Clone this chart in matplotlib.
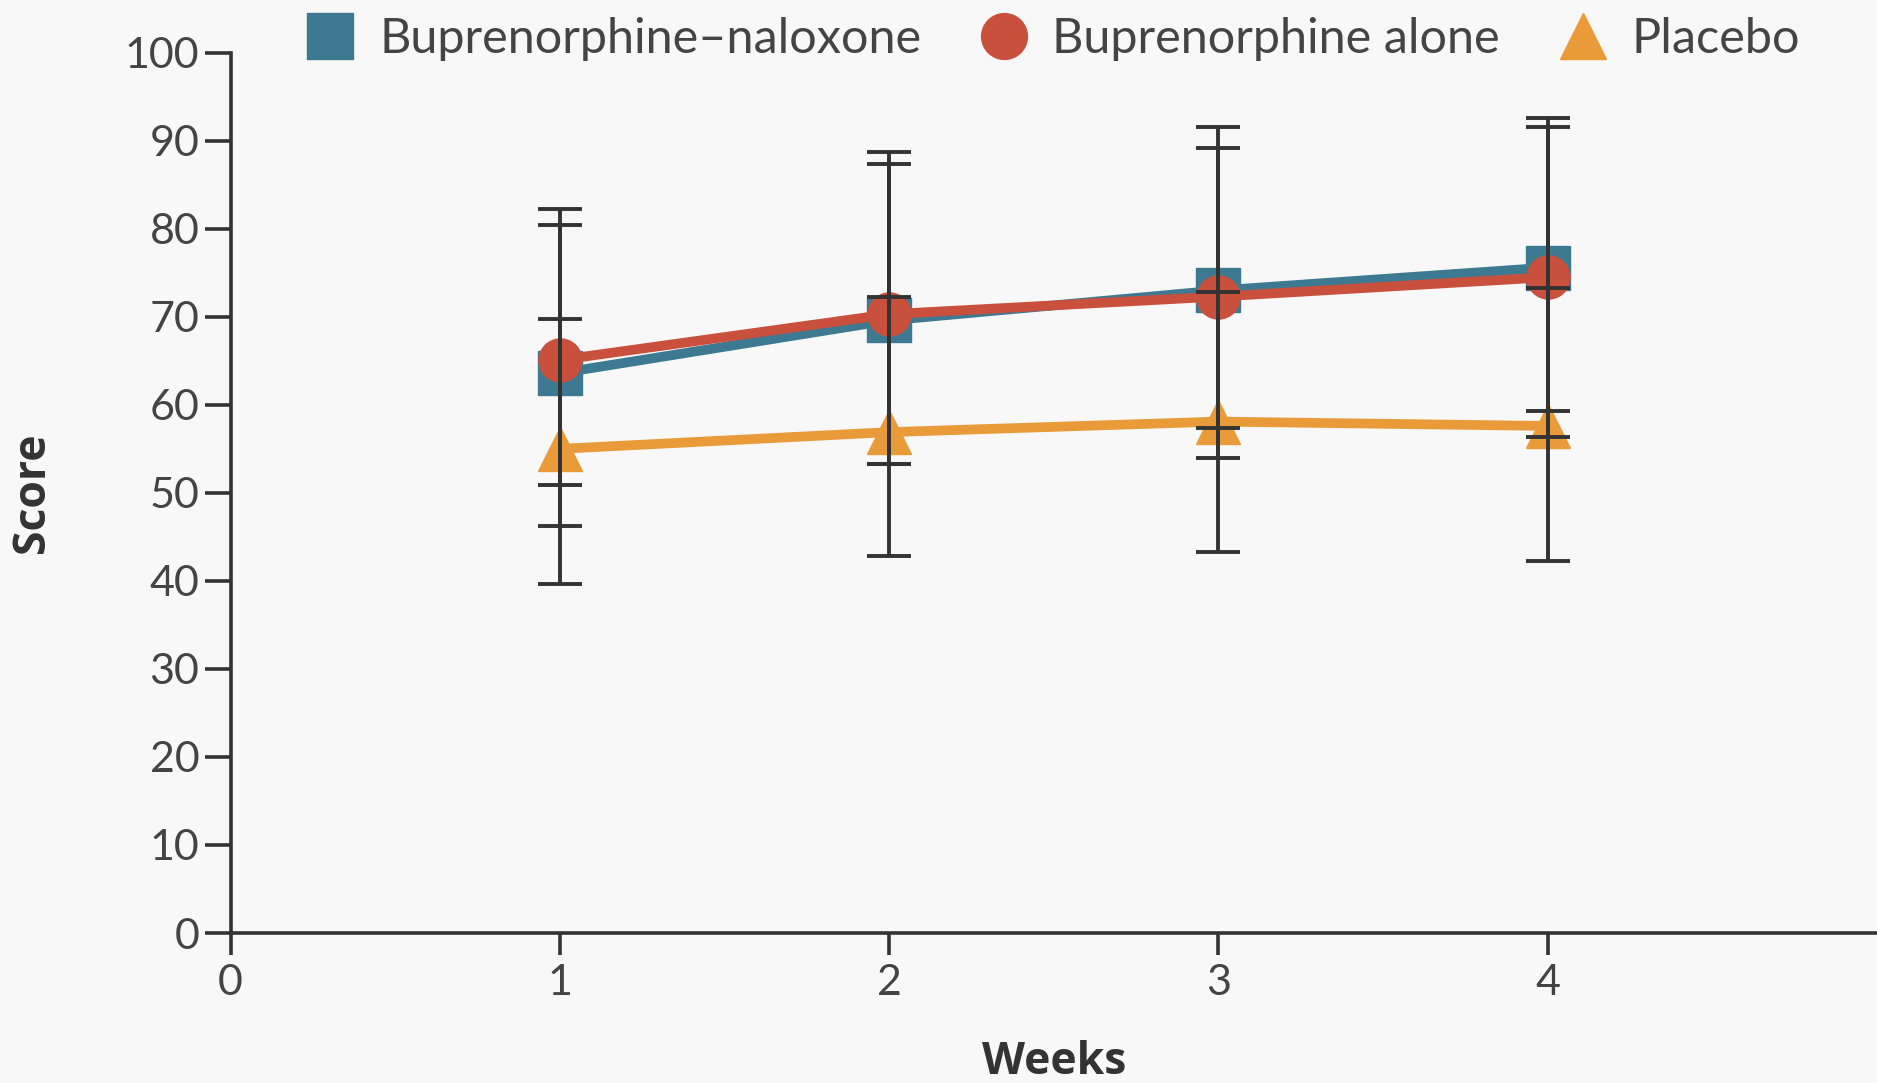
import numpy as np
import matplotlib.pyplot as plt
from matplotlib.lines import Line2D

plt.rcParams['font.family'] = ['Lato', 'DejaVu Sans']

weeks = [1, 2, 3, 4]

# means
bn_mean = [63.6, 69.6, 73.0, 75.6]
ba_mean = [65.1, 70.3, 72.3, 74.5]
pl_mean = [55.0, 56.9, 58.1, 57.6]

# error bar limits (lower, upper)
bn_low = [46.2, 53.3, 54.0, 59.3]
bn_high = [80.4, 87.4, 91.6, 91.6]
ba_low = [50.9, 53.3, 57.4, 56.4]
ba_high = [82.2, 88.7, 89.2, 92.6]
pl_low = [39.7, 42.8, 43.3, 42.3]
pl_high = [69.7, 72.3, 72.8, 73.3]

labels = ['Buprenorphine\u2013naloxone', 'Buprenorphine alone', 'Placebo']
colors = ['#3d7a91', '#c9503d', '#e89b38']
markers = ['s', 'o', '^']
dark = '#333333'
bg = '#f8f8f8'

fig = plt.figure(figsize=(18.77, 10.83), dpi=100, facecolor=bg)
ax = fig.add_axes([0.1229, 0.1385, 0.8771, 0.8128], facecolor=bg)

series = [(bn_mean, bn_low, bn_high), (ba_mean, ba_low, ba_high), (pl_mean, pl_low, pl_high)]

for i, (m, lo, hi) in enumerate(series):
    ax.plot(weeks, m, '-', color=colors[i], lw=7, marker=markers[i], ms=31,
            mec=colors[i], zorder=2 + i * 0.1)

for i, (m, lo, hi) in enumerate(series):
    m = np.array(m)
    yerr = [m - np.array(lo), np.array(hi) - m]
    ax.errorbar(weeks, m, yerr=yerr, fmt='none', ecolor=dark, elinewidth=2.8,
                capsize=15.5, capthick=2.8, zorder=5)

ax.set_xlim(0, 5)
ax.set_ylim(0, 100)
ax.set_xticks([0, 1, 2, 3, 4])
ax.set_yticks(np.arange(0, 101, 10))

for s in ['top', 'right']:
    ax.spines[s].set_visible(False)
for s in ['left', 'bottom']:
    ax.spines[s].set_color(dark)
    ax.spines[s].set_linewidth(2.6)

ax.tick_params(axis='y', length=18.5, width=2.6, color=dark, labelsize=31,
               labelcolor='#444444', pad=4)
ax.tick_params(axis='x', length=16, width=2.6, color=dark, labelsize=31,
               labelcolor='#444444', pad=6)

ax.set_ylabel('Score', fontsize=32, fontweight='bold', color=dark,
              family=['Open Sans', 'DejaVu Sans'])
ax.yaxis.set_label_coords(-0.107, 0.5)
ax.set_xlabel('Weeks', fontsize=32, fontweight='bold', color=dark,
              family=['Open Sans', 'DejaVu Sans'])
ax.xaxis.set_label_coords(0.5, -0.122)

handles = [Line2D([], [], ls='none', marker=markers[i], color=colors[i], ms=33)
           for i in range(3)]
fig.legend(handles, labels, loc='center', bbox_to_anchor=(0.561, 0.964), ncol=3,
           frameon=False, fontsize=35, labelcolor='#444444', handletextpad=0.5,
           columnspacing=1.2, handlelength=1.0)

fig.savefig('out.png', dpi=100, facecolor=bg)
